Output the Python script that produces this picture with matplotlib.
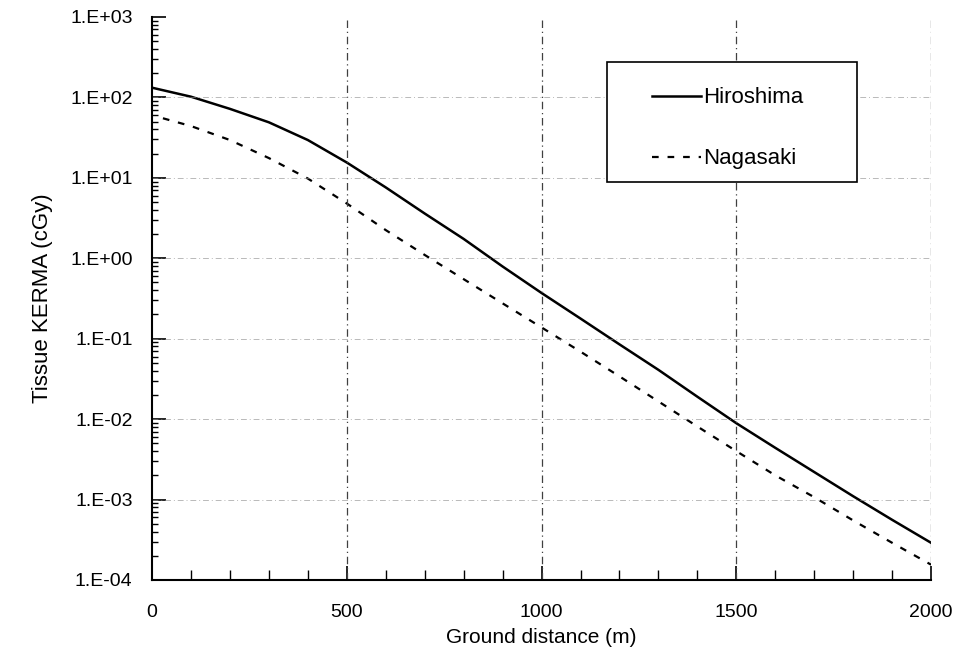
import matplotlib
matplotlib.use('Agg')
import matplotlib.pyplot as plt
import matplotlib.ticker as mticker
from matplotlib.patches import Rectangle
import numpy as np

plt.rcParams['font.family'] = ['Liberation Sans', 'DejaVu Sans']

# Tissue KERMA vs ground distance
hiro_x = [0, 100, 200, 300, 400, 500, 600, 700, 800, 900, 1000,
          1100, 1200, 1300, 1400, 1500, 1600, 1700, 1800, 1900, 2000]
hiro_y = [132, 102, 72, 49, 29.5, 15.5, 7.6, 3.6, 1.74, 0.79, 0.37,
          0.178, 0.085, 0.041, 0.019, 0.0089, 0.0044, 0.0022, 0.0011, 0.00056, 0.00029]

naga_x = [28, 100, 200, 300, 400, 500, 600, 700, 800, 900, 1000,
          1100, 1200, 1300, 1400, 1500, 1600, 1700, 1800, 1900, 2000]
naga_y = [55, 44, 29.5, 17.6, 9.8, 4.8, 2.24, 1.10, 0.55, 0.275, 0.138,
          0.069, 0.034, 0.0166, 0.0081, 0.0040, 0.0020, 0.00107, 0.00055, 0.00029, 0.000155]

x_ticks = [0, 500, 1000, 1500, 2000]
y_ticks = [1e-4, 1e-3, 1e-2, 1e-1, 1e0, 1e1, 1e2, 1e3]
y_tick_labels = ['1.E-04', '1.E-03', '1.E-02', '1.E-01', '1.E+00', '1.E+01', '1.E+02', '1.E+03']

fig = plt.figure(figsize=(9.72, 6.57), dpi=100)
ax = fig.add_axes([0.1564, 0.1172, 0.8015, 0.8570])

ax.plot(hiro_x, hiro_y, color='black', lw=1.8, label='Hiroshima')
ax.plot(naga_x, naga_y, color='black', lw=1.6, dashes=(3, 4), label='Nagasaki')

ax.set_yscale('log')
ax.set_xlim(0, 2000)
ax.set_ylim(1e-4, 1e3)

ax.set_xticks(x_ticks)
ax.xaxis.set_minor_locator(mticker.MultipleLocator(100))
ax.set_yticks(y_ticks)
ax.set_yticklabels(y_tick_labels)
ax.yaxis.set_minor_locator(mticker.LogLocator(base=10, subs=np.arange(2, 10), numticks=20))
ax.yaxis.set_minor_formatter(mticker.NullFormatter())

ax.tick_params(axis='both', which='major', direction='in', length=10, width=1.2, labelsize=14)
ax.tick_params(axis='x', which='major', pad=17)
ax.tick_params(axis='y', which='major', pad=14)
ax.tick_params(axis='x', which='minor', direction='in', length=7, width=1.0)
ax.tick_params(axis='y', which='minor', direction='in', length=4, width=1.0)

# dash-dot grid (vertical ones clear, horizontal ones faint)
for xv in [500, 1000, 1500, 2000]:
    ax.axvline(xv, color='0.25', lw=0.9, ls='-.', dashes=(6, 3, 1, 3))
for yv in y_ticks[1:-1]:
    ax.axhline(yv, color='0.55', lw=0.7, ls='-.', dashes=(6, 3, 1, 3), alpha=0.6)

for side in ['top', 'right']:
    ax.spines[side].set_visible(False)
for side in ['left', 'bottom']:
    ax.spines[side].set_linewidth(1.5)

ax.set_xlabel('Ground distance (m)', fontsize=15, labelpad=5)
ax.set_ylabel('Tissue KERMA (cGy)', fontsize=16, labelpad=12)

# legend: box drawn separately so the padding matches the scan
box = Rectangle((0.584, 0.707), 0.321, 0.213, transform=ax.transAxes,
                facecolor='white', edgecolor='black', lw=1.2, zorder=4)
ax.add_patch(box)
leg = ax.legend(loc='upper left', bbox_to_anchor=(0.642, 0.875), fontsize=16,
                frameon=False, handlelength=2.2, handletextpad=0.1,
                labelspacing=1.8, borderpad=0, borderaxespad=0)
leg.set_zorder(5)

fig.savefig('out.png', dpi=100)
